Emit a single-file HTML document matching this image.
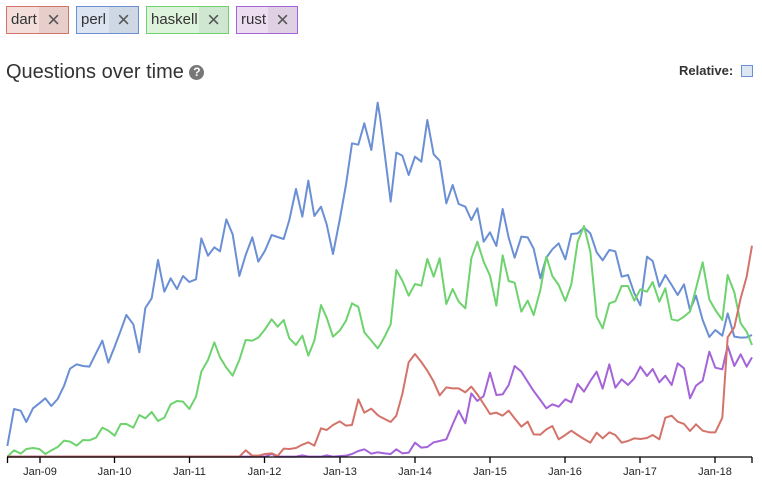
<!DOCTYPE html><html><head><meta charset="utf-8"><style>
body{margin:0;width:762px;height:485px;background:#fff;font-family:"Liberation Sans",Arial,sans-serif;position:relative;overflow:hidden}
.tag{position:absolute;top:6px;height:28px;border:1px solid;box-sizing:border-box;display:flex;font-size:15px;color:#333;line-height:26px}
.tag span{padding:0 0 0 4px}
.tag b{font-weight:normal;margin-left:auto;width:29px;text-align:center;font-size:22px;color:#555;line-height:25px}
h1{position:absolute;left:6px;top:61px;margin:0;font-size:20px;font-weight:normal;color:#333}
.q{display:inline-block;width:15px;height:15px;border-radius:50%;background:#777;color:#fff;font-size:12px;line-height:15px;text-align:center;font-weight:bold;vertical-align:2px}
.rel{position:absolute;left:679px;top:63px;font-size:13px;font-weight:bold;color:#333}
.cb{position:absolute;left:741px;top:65px;width:12px;height:12px;border:1px solid #6a8fd4;background:#dde6f3;box-sizing:border-box}
</style></head><body>
<div class="tag" style="left:6px;width:63px;border-color:#d4736a;background:#f3dedc"><span>dart</span><b style="background:#e8cecb">×</b></div>
<div class="tag" style="left:76px;width:63px;border-color:#6a8fd4;background:#dde4f1"><span>perl</span><b style="background:#ced8e5">×</b></div>
<div class="tag" style="left:146px;width:83px;border-color:#6ed36e;background:#def3dc"><span>haskell</span><b style="background:#cfe6d1">×</b></div>
<div class="tag" style="left:236px;width:62px;border-color:#a563d8;background:#ecddf1"><span>rust</span><b style="background:#dfd0e3">×</b></div>
<h1>Questions over time <span class="q">?</span></h1>
<div class="rel">Relative:</div><div class="cb"></div>
<svg width="762" height="485" style="position:absolute;left:0;top:0" font-family="Liberation Sans, Arial, sans-serif">
<g fill="none" stroke-width="6" stroke-linejoin="round">
<g transform="translate(0,90) scale(0.33333)">
<polyline stroke="#6a8fd4" points="22,1068 42,957 62,962 79,996 99,955 118,940 136,925 154,948 173,927 192,888 210,836 230,823 249,828 268,830 288,790 307,752 325,818 344,770 362,722 379,675 400,703 418,787 436,654 455,625 474,510 493,605 512,565 531,597 549,558 568,576 588,568 604,445 624,497 643,472 660,484 679,388 698,433 718,558 737,495 757,442 775,515 795,482 815,435 833,441 851,447 868,390 888,297 907,380 925,272 943,378 963,350 980,403 999,492 1019,390 1038,284 1056,160 1075,164 1093,100 1114,180 1133,38 1140,80"/>
<polyline stroke="#6ed36e" points="22,1100 42,1081 62,1091 79,1077 99,1074 118,1077 136,1092 154,1081 173,1071 192,1052 210,1055 230,1067 249,1050 268,1051 288,1043 307,1013 325,1022 344,1037 362,1002 379,1002 400,1013 418,975 436,985 455,966 474,993 493,983 512,943 531,933 549,935 568,957 588,920 604,845 624,810 643,757 660,802 679,833 698,857 718,810 737,750 757,752 775,743 795,718 815,688 833,710 851,690 868,745 888,765 907,737 925,797 943,752 963,645 980,683 999,740 1019,722 1038,692 1056,640 1075,651 1093,727 1114,752 1133,775 1140,765"/>
<polyline stroke="#a563d8" points="22,1100 795,1100 815,1092 833,1100 888,1100 907,1096 925,1100 963,1100 980,1096 999,1100 1038,1097 1056,1092 1075,1083 1093,1078 1114,1091 1133,1087 1140,1088"/>
<polyline stroke="#d4736a" points="22,1100 718,1100 737,1081 757,1097 775,1097 795,1092 815,1090 833,1098 851,1076 868,1077 888,1074 907,1064 925,1057 943,1067 963,1015 980,1020 999,1005 1019,994 1038,1007 1056,1005 1075,928 1093,968 1114,956 1133,975 1140,980"/>
</g>
<g transform="translate(380,90) scale(0.33333)">
<polyline stroke="#6a8fd4" points="0,80 14,190 32,335 49,188 67,197 86,255 105,200 124,215 142,90 161,193 179,212 199,340 218,285 236,342 256,350 274,390 292,355 311,455 330,427 349,468 368,357 386,443 404,503 424,440 443,442 461,476 481,565 499,503 517,478 536,460 556,508 574,432 593,430 612,413 631,430 650,487 668,511 688,480 706,484 725,560 744,555 763,610 781,646 801,500 818,513 838,590 856,555 875,585 893,615 912,583 930,660 948,617 968,690 988,741 1006,720 1027,737 1043,670 1063,740 1082,743 1100,742 1116,735"/>
<polyline stroke="#6ed36e" points="0,765 14,740 32,703 49,540 67,572 86,617 105,582 124,587 142,507 161,560 179,505 199,642 218,597 236,635 256,655 274,505 292,455 311,515 330,557 349,647 368,496 386,573 404,578 424,665 443,632 461,675 481,600 499,500 517,558 536,585 556,633 574,583 593,455 612,408 631,485 650,680 668,715 688,640 706,634 725,588 744,588 763,632 781,598 801,605 818,576 838,635 856,595 875,688 893,692 912,680 930,665 948,595 968,517 988,628 1006,660 1027,690 1043,555 1063,607 1082,700 1100,725 1116,765"/>
<polyline stroke="#a563d8" points="0,1088 14,1090 32,1092 49,1078 67,1090 86,1088 105,1058 124,1073 142,1071 161,1057 179,1053 199,1048 218,1003 236,962 256,1000 274,910 292,933 311,918 330,848 349,915 368,913 386,885 404,828 424,845 443,875 461,903 481,930 499,955 517,943 536,950 556,928 574,937 593,882 612,905 631,873 650,845 668,896 688,823 706,893 725,868 744,885 763,865 781,830 801,858 818,837 838,877 856,857 875,885 893,820 912,835 930,925 948,887 968,872 988,785 1006,833 1027,838 1043,768 1063,828 1082,793 1100,830 1116,802"/>
<polyline stroke="#d4736a" points="0,980 14,987 32,996 49,977 67,912 86,817 105,792 124,816 142,842 161,875 179,916 199,892 218,895 236,895 256,907 274,890 292,913 311,942 330,972 349,968 368,977 386,962 404,985 424,1010 443,995 461,1033 481,1034 499,1018 517,1008 536,1048 556,1035 574,1022 593,1035 612,1047 631,1058 650,1028 668,1045 688,1027 706,1035 725,1058 744,1053 763,1045 781,1047 801,1044 818,1035 838,1048 856,983 875,977 893,995 912,1002 930,1023 948,1003 968,1022 988,1027 1006,1027 1027,983 1043,742 1063,712 1082,625 1100,560 1116,467"/>
</g>
</g>
<g stroke="#000" stroke-width="1.3">
<line x1="7" y1="457" x2="752" y2="457"/>
<line x1="7.5" y1="457" x2="7.5" y2="463"/><line x1="40" y1="457" x2="40" y2="463"/><line x1="114.5" y1="457" x2="114.5" y2="463"/><line x1="189.5" y1="457" x2="189.5" y2="463"/><line x1="264.5" y1="457" x2="264.5" y2="463"/><line x1="340" y1="457" x2="340" y2="463"/><line x1="415" y1="457" x2="415" y2="463"/><line x1="490" y1="457" x2="490" y2="463"/><line x1="565" y1="457" x2="565" y2="463"/><line x1="640" y1="457" x2="640" y2="463"/><line x1="715" y1="457" x2="715" y2="463"/><line x1="752" y1="457" x2="752" y2="463"/>
</g>
<g font-size="11" fill="#222" text-anchor="middle">
<text x="40" y="475">Jan-09</text><text x="114.5" y="475">Jan-10</text><text x="189.5" y="475">Jan-11</text><text x="264.5" y="475">Jan-12</text><text x="340" y="475">Jan-13</text><text x="415" y="475">Jan-14</text><text x="490" y="475">Jan-15</text><text x="565" y="475">Jan-16</text><text x="640" y="475">Jan-17</text><text x="715" y="475">Jan-18</text>
</g>
</svg>
</body></html>
